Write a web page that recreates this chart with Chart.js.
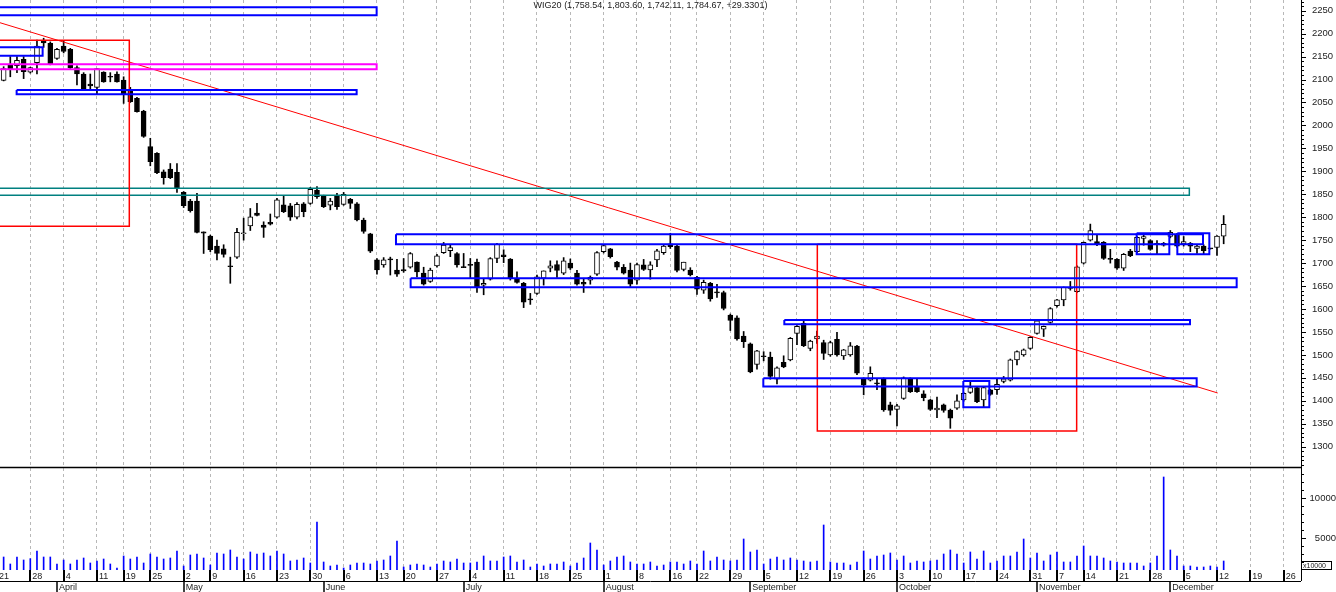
<!DOCTYPE html>
<html><head><meta charset="utf-8">
<script src="https://cdn.jsdelivr.net/npm/chart.js@4.4.1/dist/chart.umd.min.js"></script>
<style>html,body{margin:0;padding:0;background:#fff;overflow:hidden}canvas{display:block}</style>
</head><body>
<canvas id="c" width="1336" height="592"></canvas>
<script>
const title = 'WIG20 (1,758.54, 1,803.60, 1,742.11, 1,784.67, +29.3301)';

// trading-day index 0 = 21 March 2022
const opens = [2118,2098,2132,2130,2144,2116,2137,2185,2179,2146,2173,2166,2126,2112,2090,2083,2116,2107,2112,2099,
2077,2059,2031,1954,1939,1899,1905,1898,1854,1835,1835,1768,1759,1737,1731,1693,1713,1764,1781,1809,
1783,1789,1800,1827,1825,1800,1829,1830,1859,1846,1826,1846,1828,1839,1829,1794,1764,1707,1696,1708,
1685,1686,1691,1702,1678,1660,1694,1723,1727,1721,1691,1696,1702,1652,1665,1710,1718,1709,1667,1656,
1621,1634,1667,1689,1697,1678,1700,1678,1658,1663,1676,1725,1731,1702,1691,1685,1663,1696,1685,1707,
1723,1742,1737,1686,1685,1669,1641,1656,1636,1636,1587,1581,1541,1524,1479,1496,1495,1447,1484,1489,
1547,1569,1514,1535,1527,1500,1534,1498,1500,1519,1448,1445,1438,1448,1391,1381,1405,1448,1431,1415,
1402,1380,1391,1380,1384,1402,1418,1429,1402,1424,1424,1442,1445,1489,1500,1514,1547,1556,1571,1607,
1620,1645,1638,1700,1750,1747,1745,1710,1708,1689,1726,1725,1754,1749,1742,1743,1758,1763,1742,1743,
1732,1737,1731,1734,1758.54];
const highs = [2128,2128,2150,2150,2150,2127,2186,2190,2182,2168,2185,2168,2130,2115,2112,2124,2117,2115,2117,2106,
2083,2061,2033,1972,1941,1903,1917,1917,1856,1839,1852,1768,1761,1750,1740,1713,1776,1798,1819,1830,
1790,1807,1841,1846,1830,1832,1832,1865,1867,1848,1841,1852,1854,1841,1832,1798,1765,1710,1712,1713,
1708,1710,1723,1703,1691,1689,1719,1745,1739,1723,1721,1710,1709,1667,1712,1743,1729,1710,1681,1658,
1634,1674,1683,1705,1705,1712,1709,1684,1667,1672,1725,1741,1732,1704,1697,1700,1700,1708,1703,1730,
1739,1765,1739,1702,1690,1671,1663,1658,1654,1639,1589,1585,1551,1526,1510,1507,1506,1474,1498,1538,
1564,1576,1532,1552,1532,1530,1549,1512,1527,1521,1450,1474,1449,1450,1397,1392,1452,1450,1448,1422,
1403,1408,1393,1382,1413,1418,1443,1431,1431,1425,1448,1453,1491,1509,1513,1540,1576,1563,1603,1621,
1648,1660,1694,1746,1785,1761,1747,1730,1710,1721,1730,1758,1765,1751,1749,1745,1771,1765,1758,1745,
1740,1740,1731.5,1760,1803.60];
const lows = [2108,2097,2106,2115,2102,2114,2112,2170,2132,2144,2158,2124,2088,2076,2077,2068,2094,2095,2094,2048,
2050,2029,1974,1912,1895,1872,1884,1854,1821,1811,1766,1721,1725,1707,1713,1656,1710,1750,1771,1803,
1756,1783,1798,1810,1793,1796,1801,1828,1841,1821,1816,1817,1826,1819,1792,1765,1723,1676,1691,1674,
1671,1680,1689,1670,1652,1658,1691,1721,1714,1691,1690,1667,1636,1631,1663,1701,1701,1663,1656,1603,
1610,1632,1652,1681,1669,1675,1686,1652,1636,1654,1673,1722,1711,1685,1676,1649,1654,1684,1665,1692,
1719,1732,1681,1683,1672,1632,1634,1617,1625,1598,1553,1532,1516,1461,1469,1487,1447,1437,1472,1487,
1522,1518,1509,1525,1490,1497,1497,1490,1497,1457,1413,1443,1424,1377,1369,1345,1403,1418,1418,1400,
1379,1363,1375,1340,1381,1399,1416,1396,1387,1412,1414,1439,1443,1478,1497,1512,1545,1540,1569,1604,
1607,1641,1636,1698,1748,1738,1708,1700,1686,1684,1714,1723,1739,1728,1720,1737,1755,1734,1737,1725,
1721,1720,1730.5,1717,1742.11];
const closes = [2124,2124,2123,2142,2117,2126,2173,2180,2134,2166,2161,2126,2112,2077,2086,2124,2095,2105,2095,2068,
2052,2030,1976,1921,1897,1886,1886,1862,1825,1814,1767,1765,1729,1721,1719,1692,1767,1766,1801,1804,
1778,1785,1838,1812,1800,1828,1812,1861,1845,1823,1835,1823,1850,1830,1794,1769,1726,1685,1707,1707,
1676,1683,1721,1681,1654,1685,1716,1739,1734,1696,1690,1695,1647,1656,1710,1741,1714,1667,1658,1615,
1620,1670,1683,1694,1684,1705,1689,1654,1654,1669,1723,1738,1714,1691,1678,1654,1697,1686,1696,1727,
1737,1736,1684,1702,1674,1643,1658,1622,1635,1601,1575,1535,1529,1463,1509,1496,1453,1472,1474,1536,
1562,1520,1530,1541,1503,1527,1500,1511,1520,1460,1434,1460,1437,1380,1379,1389,1450,1420,1420,1407,
1381,1384,1379,1362,1400,1416,1429,1398,1429,1414,1436,1448,1489,1507,1511,1538,1574,1562,1601,1620,
1647,1645,1692,1745,1771,1742,1710,1708,1689,1719,1716,1756,1758,1730,1741,1739,1767,1737,1747,1737,
1737,1727,1731,1759,1784.67];
const volumes = [2288,2663,1788,2663,2288,2454,3413,2663,2663,1788,2288,1788,2288,2538,1913,2163,2413,1788,1288,2788,
2413,2663,1913,3038,2663,2413,2538,3413,1538,2913,3038,2538,1663,3163,3038,3538,2663,2413,3288,3038,
3163,2788,3413,3038,2163,2288,2538,1913,7038,2038,1538,1663,1288,1663,1913,1913,1788,2163,2288,2788,
4663,1413,1663,1788,1663,1413,1788,2163,2038,2413,1913,1913,2038,2788,2163,2163,2663,2788,2038,2288,
1413,1788,1538,1788,1788,2038,1538,1913,2538,4413,3538,1663,2163,2663,2788,2038,1788,1788,2038,1538,
1663,2038,2038,1788,2163,1788,3413,2163,2663,2288,2163,2288,4913,3288,3538,1788,2413,2663,2288,2538,
2288,2163,2038,2163,6663,2038,1913,1913,1663,2038,3413,2413,2788,2913,3163,2288,2788,1913,2163,2038,
2163,2288,3038,3538,3038,1913,3288,2413,3413,1913,2163,2788,2788,3288,4913,2538,3163,2163,2913,3288,
2038,2038,2788,4038,2788,2788,2538,2163,2038,1913,1913,1913,1538,1913,2788,12663,3538,2788,1538,1538,
1413,1413,1538,1413,2163];

// axis labels (trading-day index of first session of each week / month)
const weekStarts = [0,5,10,15,19,23,28,32,37,42,47,52,57,61,66,71,76,81,86,91,96,101,105,110,115,120,125,130,135,140,145,150,155,159,163,168,173,178,183,188,193];
const weekLabels = ['21','28','4','11','19','25','2','9','16','23','30','6','13','20','27','4','11','18','25','1','8','16','22','29','5','12','19','26','3','10','17','24','31','7','14','21','28','5','12','19','26'];
const monthStarts = [9,28,49,70,91,113,135,156,176];
const monthNames = ['April','May','June','July','August','September','October','November','December'];
const priceTicks = [1300,1350,1400,1450,1500,1550,1600,1650,1700,1750,1800,1850,1900,1950,2000,2050,2100,2150,2200,2250];
const volumeTicks = [5000,10000];

// drawn boxes: [from index, to index, upper price, lower price]
const boxesBlue = [[-5,56.95,2257.4,2240.0],[-5,6.85,2170.2,2152.0],[2.95,53.95,2077.2,2067.8],[59.85,180.9,1762.8,1741.0],
  [170.95,175.85,1765,1719.2],[177.05,181.85,1765,1719.2],[62.05,185.95,1666.9,1647.3],[118.1,178.95,1576.0,1566.6],
  [114.95,179.95,1449.0,1430.9],[144.95,148.85,1443.1,1385.8]];
const boxesRed = [[-5,19.85,2185.5,1780.2],[123.05,161.95,1741.0,1334.2]];
const boxesMagenta = [[-5,56.95,2133.2,2122.3]];
const boxesTeal = [[-5,178.85,1863.0,1847.7]];
const trendLine = [[0,2225.8],[183.1,1417.0]];

const XMIN = 0.455, XMAX = 195.6;

function rect(b){return [{x:b[0],y:b[2]},{x:b[1],y:b[2]},{x:b[1],y:b[3]},{x:b[0],y:b[3]},{x:b[0],y:b[2]}];}
function boxSets(list,color,w){return list.map(b=>({type:'line',data:rect(b),borderColor:color,borderWidth:w,pointRadius:0,fill:false,tension:0,yAxisID:'y',order:0}));}

const FONT = '"Liberation Sans", Arial, sans-serif';

const decor = {
  id:'decor',
  afterDraw(chart){
    const ctx=chart.ctx, xs=chart.scales.x, ys=chart.scales.y, vs=chart.scales.v, ca=chart.chartArea;
    const R = ca.right;
    ctx.save();
    const ln=(x1,y1,x2,y2)=>{ctx.beginPath();ctx.moveTo(x1,y1);ctx.lineTo(x2,y2);ctx.stroke();};
    ctx.strokeStyle='#000';
    ctx.lineWidth=1.5; ln(0,Math.round(ys.bottom)+0.5,R,Math.round(ys.bottom)+0.5);
    ctx.lineWidth=1; ln(Math.round(R)+0.5,0,Math.round(R)+0.5,581);
    for(let v=1260; v<=2270; v+=10){const p=Math.round(ys.getPixelForValue(v))+0.5; ln(R,p,R+(v%50===0?5:3),p);}
    for(let v=2000; v<=13000; v+=1000){const p=Math.round(vs.getPixelForValue(v))+0.5; ln(R,p,R+(v%5000===0?5:3),p);}
    const base=Math.round(ca.bottom);
    ln(0,581.5,R,581.5);
    ctx.lineWidth=2;
    weekStarts.forEach(i=>{const x=Math.round(xs.getPixelForValue(i)); ln(x,base,x,581);});
    ctx.lineWidth=1.5;
    monthStarts.forEach(i=>{const x=Math.round(xs.getPixelForValue(i)); ln(x,581,x,592);});
    ctx.fillStyle='#222'; ctx.font='9px '+FONT; ctx.textAlign='left'; ctx.textBaseline='middle';
    weekStarts.forEach((i,k)=>{const x=xs.getPixelForValue(i); ctx.fillText(weekLabels[k],x+2,576.5);});
    monthStarts.forEach((i,k)=>{const x=xs.getPixelForValue(i); ctx.fillText(monthNames[k],x+2,587.5);});
    ctx.textAlign='center'; ctx.fillText(title,(ca.left+ca.right)/2,6);
    ctx.lineWidth=1; ctx.strokeRect(R+0.5,561.5,30,8);
    ctx.font='7px '+FONT; ctx.textAlign='left'; ctx.fillText('x10000',R+2,565.8);
    ctx.restore();
  }
};

const datasets = [
  ...boxSets(boxesBlue,'#0000ff',2),
  ...boxSets(boxesRed,'#ff0000',1.5),
  ...boxSets(boxesMagenta,'#ff00ff',2),
  ...boxSets(boxesTeal,'#008080',1.5),
  {type:'line',data:trendLine.map(p=>({x:p[0],y:p[1]})),borderColor:'#ff0000',borderWidth:1,pointRadius:0,fill:false,tension:0,yAxisID:'y',order:0},
  {type:'bar',data:opens.map((o,i)=>({x:i,y:[lows[i],highs[i]]})),backgroundColor:'#000',borderWidth:0,barThickness:1,grouped:false,yAxisID:'y',order:3},
  {type:'bar',data:opens.map((o,i)=>({x:i,y:[o,closes[i]]})),backgroundColor:opens.map((o,i)=>closes[i]>o?'#ffffff':'#000000'),
    borderColor:'#000',borderWidth:1,borderSkipped:false,barThickness:5,minBarLength:1,grouped:false,yAxisID:'y',order:2},
  {type:'bar',data:volumes.map((v,i)=>({x:i,y:v})),backgroundColor:'#0000ff',borderWidth:0,barThickness:1,grouped:false,yAxisID:'v',order:4}
];

const noPad = s=>{s.width=35; s.paddingTop=0; s.paddingBottom=0;};

new Chart(document.getElementById('c'),{
  type:'bar',
  data:{datasets},
  options:{
    responsive:false, animation:false, devicePixelRatio:1,
    layout:{padding:{left:0,right:0,top:0,bottom:22}},
    plugins:{legend:{display:false},tooltip:{enabled:false},title:{display:false}},
    scales:{
      x:{type:'linear',min:XMIN,max:XMAX,offset:false,
        grid:{display:true,drawOnChartArea:true,drawTicks:false,color:'#b8b8b8',lineWidth:1,offset:false},
        border:{display:false,dash:[3,3]},
        ticks:{display:false},
        afterBuildTicks:s=>{s.ticks=weekStarts.map(v=>({value:v}));}},
      y:{type:'linear',position:'right',stack:'panes',stackWeight:467,min:1255.7,max:2273.3,beginAtZero:false,
        grid:{display:true,drawOnChartArea:false,drawTicks:true,tickLength:9,tickColor:'rgba(0,0,0,0)'},
        border:{display:false},
        ticks:{padding:2,autoSkip:false,color:'#222',font:{family:FONT,size:9.5},callback:v=>String(v)},
        afterBuildTicks:s=>{s.ticks=priceTicks.map(v=>({value:v}));},
        afterFit:noPad},
      v:{type:'linear',position:'right',stack:'panes',stackWeight:103,min:1037.5,max:13912.5,beginAtZero:false,
        grid:{display:true,drawOnChartArea:false,drawTicks:true,tickLength:9,tickColor:'rgba(0,0,0,0)'},
        border:{display:false},
        ticks:{padding:0,crossAlign:'far',autoSkip:false,color:'#222',font:{family:FONT,size:9.5},callback:v=>String(v)},
        afterBuildTicks:s=>{s.ticks=volumeTicks.map(v=>({value:v}));},
        afterFit:noPad}
    }
  },
  plugins:[decor]
});
</script>
</body></html>
